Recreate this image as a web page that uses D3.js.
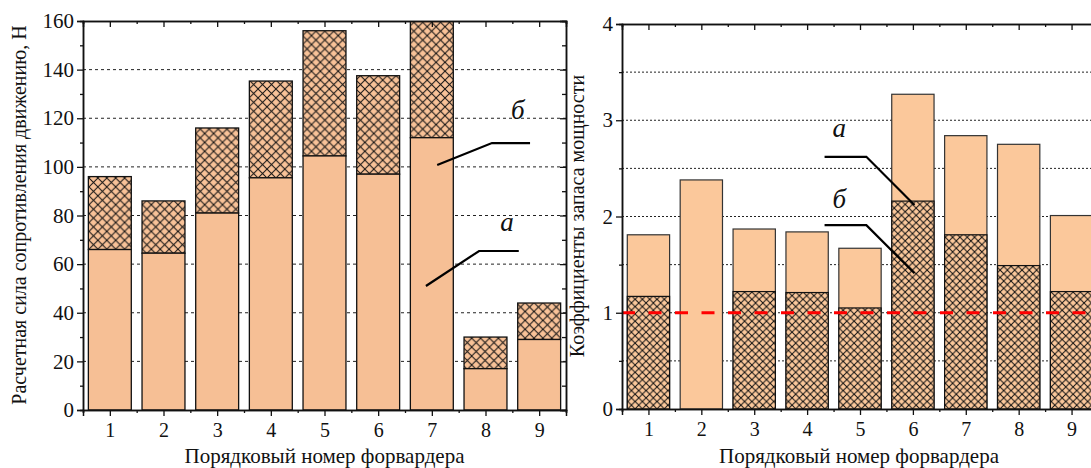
<!DOCTYPE html>
<head>
<meta charset="utf-8">
<style>
body { margin: 0; background: #fff; }
svg text { font-family: "Liberation Serif", "Times New Roman", serif; fill: #111; }
.axis path, .axis line { stroke: #111; }
.grid line { stroke: #222; stroke-width: 1px; }
</style>
</head>
<body>
<script src="https://cdn.jsdelivr.net/npm/d3@7"></script>
<script>

// номер форвардера
var forwarders = [1, 2, 3, 4, 5, 6, 7, 8, 9];

// левый график: расчетная сила сопротивления движению, Н
var forceA = [66, 64.5, 81, 95.5, 104.5, 97, 112, 17, 29];      // а
var forceB = [96, 86, 116, 135.3, 156, 137.5, 165, 30, 44];     // б (суммарно)
var forceTicks = [0, 20, 40, 60, 80, 100, 120, 140, 160];

// правый график: коэффициенты запаса мощности
var reserveA = [1.81, 2.38, 1.87, 1.84, 1.67, 3.27, 2.84, 2.75, 2.01];  // а
var reserveB = [1.17, 0, 1.22, 1.21, 1.05, 2.16, 1.81, 1.49, 1.22];     // б
var reserveTicks = [0, 1, 2, 3, 4];

var width = 1091, height = 468;
var serif = '"Liberation Serif", "Times New Roman", serif';

var svg = d3.select("body").append("svg")
    .attr("width", width)
    .attr("height", height);

var defs = svg.append("defs");

function hatch(id, size, bg, lw) {
  var p = defs.append("pattern")
      .attr("id", id)
      .attr("patternUnits", "userSpaceOnUse")
      .attr("width", size)
      .attr("height", size);
  p.append("rect").attr("width", size).attr("height", size).attr("fill", bg);
  p.append("path")
      .attr("d", "M-1,-1L" + (size + 1) + "," + (size + 1) + "M" + (size + 1) + ",-1L-1," + (size + 1))
      .attr("stroke", "#111")
      .attr("stroke-width", lw);
}
hatch("hatchL", 8.9, "#f8c298", 1);
hatch("hatchR", 7.3, "#fbc89b", 1);

// общая часть: сетка и область отсечения
function panel(o) {
  var x = d3.scaleLinear().domain([0.5, 9.5]).range([o.left, o.right]);
  var y = d3.scaleLinear().domain(o.yDomain).range([o.bottom, o.top]);
  var g = svg.append("g");

  g.append("clipPath").attr("id", o.id + "clip")
    .append("rect")
      .attr("x", o.left).attr("y", o.top)
      .attr("width", o.right - o.left).attr("height", o.bottom - o.top);

  g.append("g").attr("class", "grid")
    .selectAll("line")
    .data(o.grid)
    .enter().append("line")
      .attr("x1", o.left).attr("x2", o.right)
      .attr("y1", function(d) { return y(d); })
      .attr("y2", function(d) { return y(d); })
      .attr("stroke-dasharray", o.gridDash);

  return { x: x, y: y, g: g };
}

function axes(p, o) {
  var x = p.x, y = p.y, g = p.g;
  var minorX = d3.range(0.5, 10, 1);

  // низ
  g.append("g").attr("class", "axis")
      .attr("transform", "translate(0," + o.bottom + ")")
      .call(d3.axisBottom(x).tickValues(minorX).tickSize(3).tickFormat(""));
  var bx = g.append("g").attr("class", "axis")
      .attr("transform", "translate(0," + o.bottom + ")")
      .call(d3.axisBottom(x).tickValues(forwarders).tickSize(6).tickPadding(7));
  bx.selectAll("text").style("font-size", "20px").style("font-family", serif);

  // верх (метки внутрь)
  g.append("g").attr("class", "axis")
      .attr("transform", "translate(0," + o.top + ")")
      .call(d3.axisTop(x).tickValues(minorX).tickSize(-3).tickFormat(""));
  g.append("g").attr("class", "axis")
      .attr("transform", "translate(0," + o.top + ")")
      .call(d3.axisTop(x).tickValues(forwarders).tickSize(-6).tickFormat(""));

  // слева
  g.append("g").attr("class", "axis")
      .attr("transform", "translate(" + o.left + ",0)")
      .call(d3.axisLeft(y).tickValues(o.minorY).tickSize(3).tickFormat(""));
  var ly = g.append("g").attr("class", "axis")
      .attr("transform", "translate(" + o.left + ",0)")
      .call(d3.axisLeft(y).tickValues(o.ticks).tickSize(6).tickPadding(3).tickFormat(d3.format("d")));
  ly.selectAll("text").style("font-size", "21px").style("font-family", serif);

  // справа (внутрь)
  if (o.rightAxis) {
    g.append("g").attr("class", "axis")
        .attr("transform", "translate(" + o.right + ",0)")
        .call(d3.axisRight(y).tickValues(o.minorY).tickSize(-4).tickFormat(""));
    g.append("g").attr("class", "axis")
        .attr("transform", "translate(" + o.right + ",0)")
        .call(d3.axisRight(y).tickValues(o.ticks).tickSize(-6).tickFormat(""));
  }
  g.selectAll(".axis path.domain").attr("stroke-width", 1.5);
  g.selectAll(".axis .tick line").attr("stroke-width", 1.3);

  g.append("text")
      .attr("x", (o.left + o.right) / 2 + (o.xLabelShift || 0))
      .attr("y", 463)
      .attr("text-anchor", "middle")
      .style("font-family", serif)
      .style("font-size", "21px")
      .text("Порядковый номер форвардера");

  g.append("text")
      .attr("transform", "translate(" + o.yLabelX + "," + o.yLabelY + ") rotate(-90)")
      .attr("text-anchor", "middle")
      .style("font-family", serif)
      .style("font-size", "20px")
      .text(o.yLabel);
}

function leader(p, pts, lx, ly, label) {
  var line = d3.line().x(function(d) { return p.x(d[0]); }).y(function(d) { return p.y(d[1]); });
  p.g.append("path")
      .attr("d", line(pts))
      .attr("fill", "none")
      .attr("stroke", "#000")
      .attr("stroke-width", 2.2);
  p.g.append("text")
      .attr("x", p.x(lx)).attr("y", p.y(ly))
      .attr("text-anchor", "middle")
      .style("font-family", serif)
      .style("font-size", "27px")
      .style("font-style", "italic")
      .text(label);
}

// ---------- левый график ----------
var oL = {
  id: "L", left: 83, right: 566, top: 21, bottom: 410,
  yDomain: [0, 160], grid: [20, 40, 60, 80, 100, 120, 140], gridDash: "3,3",
  ticks: forceTicks, minorY: d3.range(10, 160, 20), rightAxis: true,
  yLabel: "Расчетная сила сопротивления движению, Н", yLabelX: 26, yLabelY: 215
};
var pL = panel(oL);
var bw = (pL.x(1.4) - pL.x(0.6));

var barsL = pL.g.append("g").attr("clip-path", "url(#Lclip)");
barsL.selectAll("rect.top")
    .data(forwarders)
    .enter().append("rect")
      .attr("class", "top")
      .attr("x", function(d) { return pL.x(d) - bw / 2; })
      .attr("width", bw)
      .attr("y", function(d, i) { return pL.y(forceB[i]); })
      .attr("height", function(d, i) { return pL.y(forceA[i]) - pL.y(forceB[i]); })
      .attr("fill", "url(#hatchL)")
      .attr("stroke", "#111").attr("stroke-width", 1.3);
barsL.selectAll("rect.base")
    .data(forwarders)
    .enter().append("rect")
      .attr("class", "base")
      .attr("x", function(d) { return pL.x(d) - bw / 2; })
      .attr("width", bw)
      .attr("y", function(d, i) { return pL.y(forceA[i]); })
      .attr("height", function(d, i) { return pL.y(0) - pL.y(forceA[i]); })
      .attr("fill", "#f6bf95")
      .attr("stroke", "#111").attr("stroke-width", 1.3);

axes(pL, oL);
leader(pL, [[7.1, 100.8], [8.12, 109.8], [8.83, 109.8]], 8.6, 119.5, "б");
leader(pL, [[6.89, 51], [7.88, 65.4], [8.62, 65.4]], 8.4, 73.5, "а");

// ---------- правый график ----------
var oR = {
  id: "R", left: 622, right: 1098, top: 24, bottom: 409,
  yDomain: [0, 4], grid: [0.5, 1, 1.5, 2, 2.5, 3, 3.5], gridDash: "2,2",
  ticks: reserveTicks, minorY: d3.range(0.5, 4, 1), rightAxis: true,
  yLabel: "Коэффициенты запаса мощности", yLabelX: 584, yLabelY: 216, xLabelShift: -1
};
var pR = panel(oR);
var bwR = (pR.x(1.4) - pR.x(0.6));

var barsR = pR.g.append("g");
barsR.selectAll("rect.total")
    .data(forwarders)
    .enter().append("rect")
      .attr("class", "total")
      .attr("x", function(d) { return pR.x(d) - bwR / 2; })
      .attr("width", bwR)
      .attr("y", function(d, i) { return pR.y(reserveA[i]); })
      .attr("height", function(d, i) { return pR.y(0) - pR.y(reserveA[i]); })
      .attr("fill", "#fbc89b")
      .attr("stroke", "#333").attr("stroke-width", 1.2);
barsR.selectAll("rect.low")
    .data(forwarders.filter(function(d, i) { return reserveB[i] > 0; }))
    .enter().append("rect")
      .attr("class", "low")
      .attr("x", function(d) { return pR.x(d) - bwR / 2; })
      .attr("width", bwR)
      .attr("y", function(d) { return pR.y(reserveB[d - 1]); })
      .attr("height", function(d) { return pR.y(0) - pR.y(reserveB[d - 1]); })
      .attr("fill", "url(#hatchR)")
      .attr("stroke", "#111").attr("stroke-width", 1.2);

pR.g.append("line")
    .attr("x1", oR.left).attr("x2", oR.right)
    .attr("y1", pR.y(1)).attr("y2", pR.y(1))
    .attr("stroke", "#ff0000")
    .attr("stroke-width", 3)
    .attr("stroke-dasharray", "13,13.5");

axes(pR, oR);
leader(pR, [[4.33, 2.62], [5.12, 2.62], [6.03, 2.12]], 4.61, 2.83, "а");
leader(pR, [[4.33, 1.91], [5.12, 1.91], [6.03, 1.41]], 4.61, 2.09, "б");

</script>
</body>
</html>
